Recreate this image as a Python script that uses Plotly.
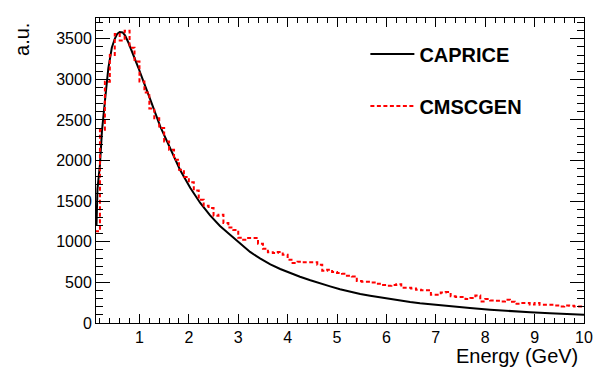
import numpy as np
import plotly.graph_objects as go

# CAPRICE parametrisation
caprice_e = [0.13, 0.15, 0.20, 0.24, 0.30, 0.37, 0.44, 0.50, 0.55, 0.60, 0.66, 0.71, 0.78,
             0.88, 0.98, 1.08, 1.18, 1.22, 1.42, 1.62, 1.82, 2.03, 2.23, 2.43, 2.63, 2.84,
             3.04, 3.24, 3.44, 3.65, 3.85, 4.05, 4.25, 4.46, 4.66, 4.86, 5.06, 5.27, 5.47,
             5.67, 5.87, 6.08, 6.28, 6.48, 6.68, 6.89, 7.09, 7.29, 7.49, 7.69, 8.10, 8.50,
             8.91, 9.31, 9.72, 10.0]
caprice_y = [1200, 1650, 1950, 2360, 2730, 3140, 3390, 3500, 3560, 3584, 3578, 3540, 3448,
             3304, 3140, 2975, 2820, 2750, 2421, 2155, 1888, 1663, 1478, 1325, 1195, 1085,
             975, 875, 795, 722, 665, 615, 570, 527, 486, 451, 415, 382, 357,
             336, 315, 296, 277, 259, 243, 229, 217, 205, 195, 185, 164, 145,
             131, 119, 110, 102]

# CMSCGEN histogram, 0.1 GeV bins from 0.1 to 10 GeV
bin_edges = np.round(np.arange(0.1, 10.0001, 0.1), 1)
cmscgen = [1130, 2380, 2970, 3300, 3560, 3480, 3600, 3390, 3220,
           2975, 2840, 2640, 2520, 2400, 2236, 2134, 2011, 1888, 1798,
           1732, 1633, 1518, 1444, 1416, 1321, 1334, 1232, 1175, 1145,
           1050, 1026, 1047, 1047, 977, 915, 870, 862, 874, 841,
           780, 739, 755, 747, 747, 747, 718, 644, 656, 628,
           616, 607, 583, 574, 517, 509, 509, 500, 484, 468,
           459, 468, 476, 435, 435, 426, 410, 402, 402, 349,
           349, 377, 381, 328, 320, 320, 296, 308, 340, 266,
           296, 278, 275, 266, 287, 262, 238, 246, 246, 229,
           246, 225, 225, 225, 217, 204, 217, 213, 204, 204]

font = "Liberation Sans, Arial, Helvetica, sans-serif"

fig = go.Figure()
fig.add_trace(go.Scatter(x=caprice_e, y=caprice_y, mode="lines", name="CAPRICE",
                         legendgroup="a",
                         line=dict(color="black", width=2)))
fig.add_trace(go.Scatter(x=bin_edges, y=cmscgen + [cmscgen[-1]], mode="lines", name="CMSCGEN",
                         legendgroup="b",
                         line=dict(color="#ff0000", width=2, dash="4px,2.5px", shape="hv")))

axis_common = dict(ticks="inside", tickcolor="black", tickwidth=1, mirror="allticks",
                   showline=True, linecolor="black", linewidth=1, showgrid=False,
                   zeroline=False, automargin=False,
                   tickfont=dict(family=font, size=16, color="black"))

fig.update_xaxes(range=[0.12, 10], tick0=0, dtick=1, ticklen=9,
                 minor=dict(dtick=0.2, ticklen=5, ticks="inside", tickcolor="black"),
                 **axis_common)
fig.update_yaxes(range=[0, 3756], tick0=0, dtick=500, ticklen=14,
                 minor=dict(dtick=100, ticklen=7, ticks="inside", tickcolor="black"),
                 **axis_common)

fig.add_annotation(text="Energy (GeV)", xref="paper", yref="paper", x=1, y=0,
                   xanchor="right", yanchor="top", yshift=-20, xshift=-4, showarrow=False,
                   font=dict(family=font, size=20, color="black"))
fig.add_annotation(text="a.u.", xref="paper", yref="paper", x=0, y=0.928, textangle=-90,
                   xanchor="center", yanchor="middle", xshift=-74, showarrow=False,
                   font=dict(family=font, size=20, color="black"))

fig.update_layout(width=596, height=372, paper_bgcolor="white", plot_bgcolor="white",
                  margin=dict(l=96, r=12, t=18, b=49),
                  showlegend=True,
                  legend=dict(x=0.552, y=0.946, xanchor="left", yanchor="top",
                              bgcolor="rgba(0,0,0,0)", traceorder="grouped",
                              tracegroupgap=23, itemwidth=44,
                              font=dict(family=font, size=20, color="black", weight="bold")))

# drop the default 8px page margin so the figure sits at the window's corner
fig.write_html("out.html", config={"displayModeBar": False},
               post_script="document.body.style.margin='0px';")
